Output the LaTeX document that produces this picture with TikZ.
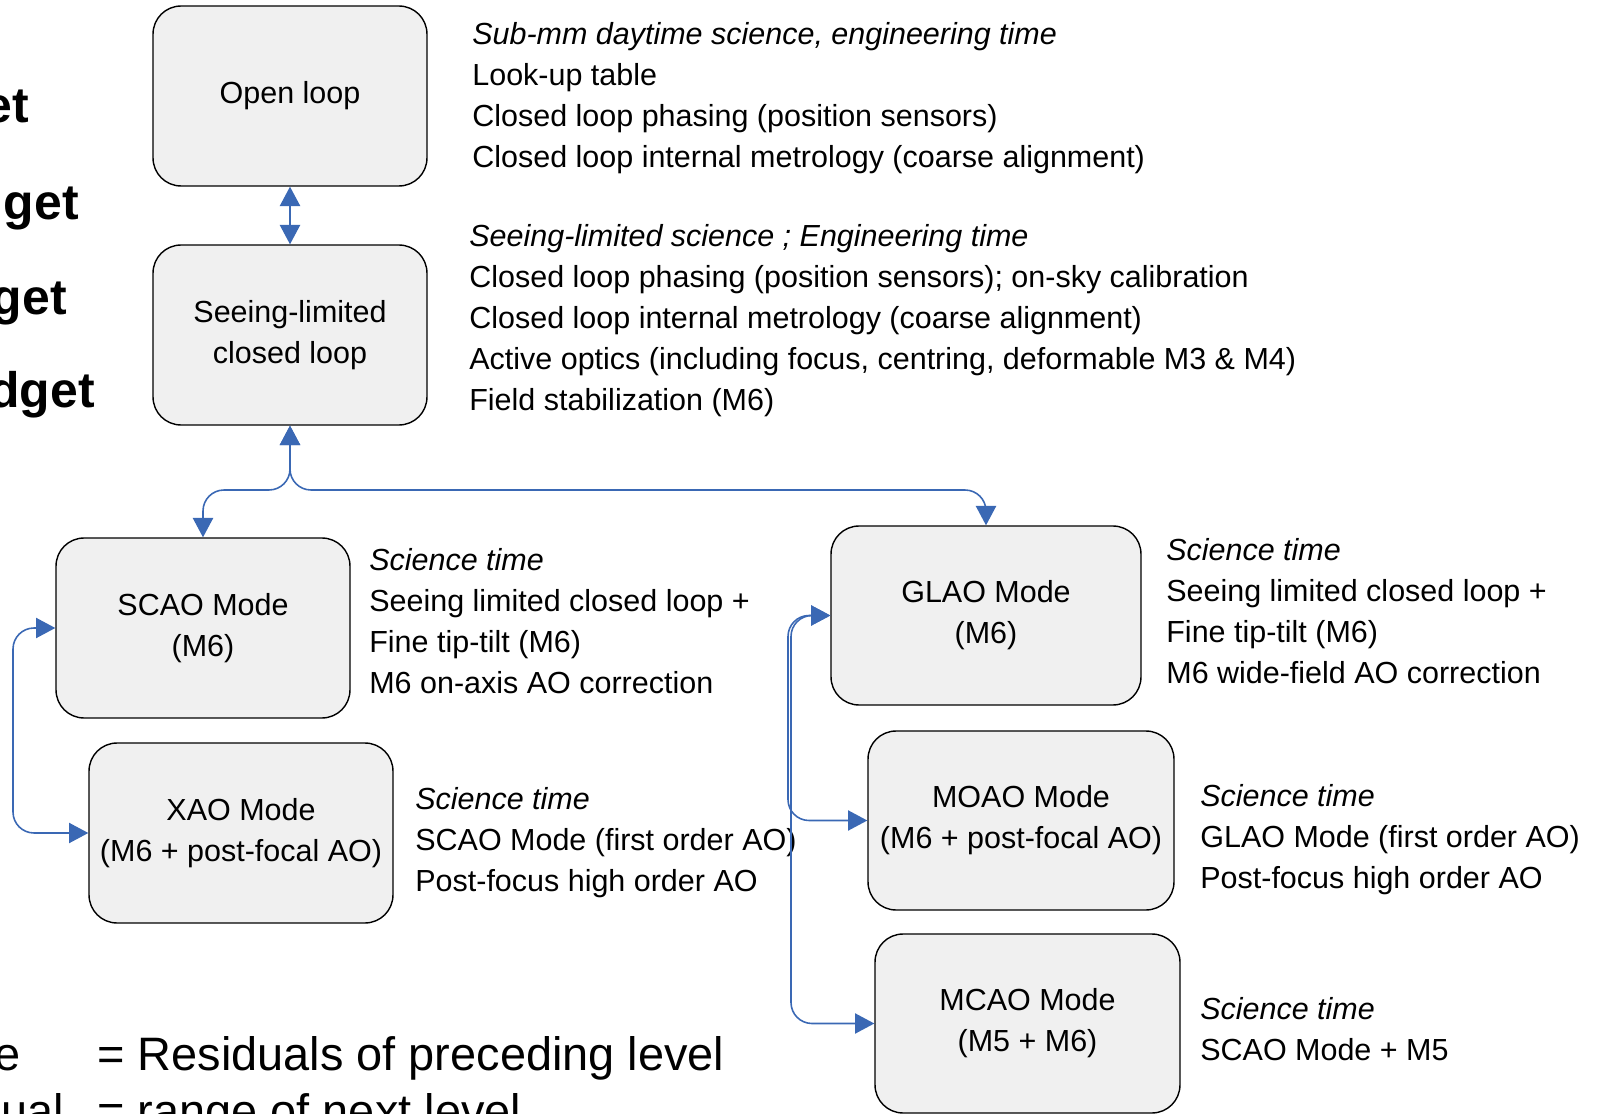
\documentclass[tikz,border=0pt]{standalone}
\usepackage{fontspec}
\setmainfont{Liberation Sans}
\usepackage{tikz}
\usetikzlibrary{arrows.meta,positioning,calc}
\usepackage{xcolor}
\definecolor{boxgray}{HTML}{F0F0F0}
\definecolor{linkblue}{HTML}{3A68B4}
\newcommand{\notefont}{\fontsize{17.35}{23.3}\selectfont}
\newcommand{\bigfont}{\fontsize{26.7}{32}\selectfont}
\newcommand{\sidefont}{\fontsize{28.4}{32}\selectfont\bfseries}
\tikzset{
  modebox/.style={draw=black, line width=0.8pt, rounded corners=0.56cm, fill=boxgray, align=center, inner sep=0pt, font=\notefont},
  notes/.style={anchor=north west, align=left, inner sep=0pt, font=\notefont},
  link/.style={draw=linkblue, line width=0.9pt, rounded corners=0.42cm},
  biarrow/.style={link, {Triangle[length=11pt,width=11.5pt]}-{Triangle[length=11pt,width=11.5pt]}}
}

\begin{document}
\begin{tikzpicture}[x=0.02cm, y=-0.02cm]
  \useasboundingbox (0,0) rectangle (1602,1114);
  \clip (0,0) rectangle (1602,1114);
  % mode boxes
  \node[modebox, minimum width=5.48cm, minimum height=3.6cm] (open) at (290,96) {Open loop};
  \node[modebox, minimum width=5.48cm, minimum height=3.6cm] (seeing) at (290,335) {Seeing-limited\\closed loop};
  \node[modebox, minimum width=5.88cm, minimum height=3.6cm] (scao) at (203,628) {SCAO Mode\\(M6)};
  \node[modebox, minimum width=6.08cm, minimum height=3.6cm] (xao) at (241,833) {XAO Mode\\(M6 + post-focal AO)};
  \node[modebox, minimum width=6.2cm, minimum height=3.58cm] (glao) at (986,615.5) {GLAO Mode\\(M6)};
  \node[modebox, minimum width=6.12cm, minimum height=3.58cm] (moao) at (1021,820.5) {MOAO Mode\\(M6 + post-focal AO)};
  \node[modebox, minimum width=6.1cm, minimum height=3.58cm] (mcao) at (1027.5,1023.5) {MCAO Mode\\(M5 + M6)};
  % notes beside the boxes
  \node[notes] (opentxt) at (472,22) {\textit{Sub-mm daytime science, engineering time}\\Look-up table\\Closed loop phasing (position sensors)\\Closed loop internal metrology (coarse alignment)};
  \node[notes] (seeingtxt) at (469,224) {\textit{Seeing-limited science ; Engineering time}\\Closed loop phasing (position sensors); on-sky calibration\\Closed loop internal metrology (coarse alignment)\\Active optics (including focus, centring, deformable M3 \& M4)\\Field stabilization (M6)};
  \node[notes] (scaotxt) at (369,548) {\textit{Science time}\\Seeing limited closed loop +\\Fine tip-tilt (M6)\\M6 on-axis AO correction};
  \node[notes] (xaotxt) at (415,787) {\textit{Science time}\\SCAO Mode (first order AO)\\Post-focus high order AO};
  \node[notes] (glaotxt) at (1166,538) {\textit{Science time}\\Seeing limited closed loop +\\Fine tip-tilt (M6)\\M6 wide-field AO correction};
  \node[notes] (moaotxt) at (1200,784) {\textit{Science time}\\GLAO Mode (first order AO)\\Post-focus high order AO};
  \node[notes] (mcaotxt) at (1200,997) {\textit{Science time}\\SCAO Mode + M5};
  % cut-off text at the left and bottom
  \node[anchor=base east, inner sep=0pt, font=\sidefont] (side1) at (29,123) {et};
  \node[anchor=base east, inner sep=0pt, font=\sidefont] (side2) at (79,220) {get};
  \node[anchor=base east, inner sep=0pt, font=\sidefont] (side3) at (67,315) {get};
  \node[anchor=base east, inner sep=0pt, font=\sidefont] (side4) at (95,408) {dget};
  \node[anchor=base east, inner sep=0pt, font=\bigfont] (foot1) at (21,1070) {e};
  \node[anchor=base west, inner sep=0pt, font=\bigfont] (foot2) at (97,1070) {= Residuals of preceding level};
  \node[anchor=base east, inner sep=0pt, font=\bigfont] (foot3) at (64,1127) {dual};
  \node[anchor=base west, inner sep=0pt, font=\bigfont] (foot4) at (97,1127) {= range of next level};
  % connectors
  \coordinate (split) at (290,490);
  \coordinate (lbus) at (13,0);
  \coordinate (rbus) at (788,0);
  \coordinate (rbusb) at (791,0);
  \draw[biarrow] (open.south) -- (seeing.north);
  \draw[biarrow] (seeing.south) |- (scao.north |- split) -- (scao.north);
  \draw[biarrow] (seeing.south) |- (glao.north |- split) -- (glao.north);
  \draw[biarrow] (scao.west) -| (lbus |- xao.west) -- (xao.west);
  \draw[biarrow] (glao.west) -| (rbus |- moao.west) -- (moao.west);
  \draw[biarrow] (glao.west) -| (rbusb |- mcao.west) -- (mcao.west);
\end{tikzpicture}
\end{document}
